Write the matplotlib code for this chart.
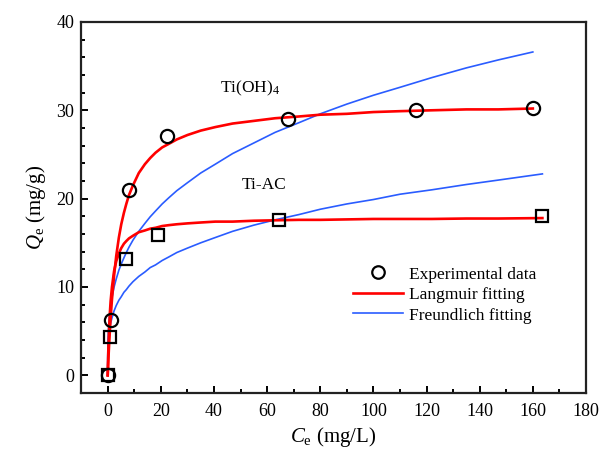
import numpy as np
import matplotlib
matplotlib.use("Agg")
import matplotlib.pyplot as plt
from matplotlib.lines import Line2D
from matplotlib.ticker import MultipleLocator

plt.rcParams['font.family'] = ['Liberation Serif', 'DejaVu Serif']
plt.rcParams['mathtext.fontset'] = 'custom'
plt.rcParams['mathtext.rm'] = 'Liberation Serif'
plt.rcParams['mathtext.it'] = 'Liberation Serif:italic'

# experimental data
ce_tioh = [0, 1.1, 8, 22.5, 68, 116, 160]
qe_tioh = [0, 6.3, 21.0, 27.1, 29.0, 30.0, 30.3]
ce_tiac = [0, 0.7, 7, 19, 64.6, 163.6]
qe_tiac = [0, 4.3, 13.2, 15.9, 17.6, 18.0]

# fitted curves, points
fit_c = [0, 0.02, 0.1, 0.25, 0.5, 0.8, 1.1, 1.6, 2.4, 3.2, 4.2, 5.1, 6.1, 7, 8, 9.5, 11.7, 14, 16, 18,
         20.5, 23, 26, 30, 35, 40.5, 47, 55, 63, 72, 80, 90, 100, 110, 122, 135, 147, 160]
lang_tioh_q = [0, 0.15, 0.7, 1.75, 3.3, 5.0, 6.5, 8.6, 11.3, 13.5, 15.6, 17.1, 18.4, 19.4, 20.4, 21.5, 22.9, 23.9, 24.6, 25.2,
               25.8, 26.2, 26.7, 27.2, 27.7, 28.1, 28.5, 28.8, 29.1, 29.3, 29.5, 29.6, 29.8, 29.9, 30.0, 30.1, 30.1, 30.2]
freu_tioh_q = [0, 2.3, 3.7, 4.95, 6.1, 7.1, 7.8, 8.8, 10.0, 10.9, 11.9, 12.6, 13.3, 13.9, 14.5, 15.3, 16.3, 17.2, 17.95, 18.6,
               19.4, 20.1, 20.9, 21.8, 22.9, 23.9, 25.1, 26.3, 27.5, 28.6, 29.6, 30.7, 31.7, 32.6, 33.7, 34.8, 35.7, 36.6]

fit_c_ac = [0, 0.02, 0.1, 0.25, 0.5, 0.8, 1.1, 1.6, 2.4, 3.2, 4.2, 5.1, 6.1, 7, 8, 9.5, 11.7, 14, 16, 18,
            20.5, 23, 26, 30, 35, 40.5, 47, 55, 63, 72, 80, 90, 100, 110, 122, 135, 147, 163.6]
lang_tiac_q = [0, 0.3, 1.3, 3.0, 5.1, 7.0, 8.4, 10.0, 11.8, 12.9, 13.8, 14.4, 14.9, 15.2, 15.5, 15.8, 16.2, 16.4, 16.6, 16.7,
               16.9, 17.0, 17.1, 17.2, 17.3, 17.4, 17.4, 17.5, 17.55, 17.6, 17.6, 17.65, 17.7, 17.7, 17.7, 17.75, 17.75, 17.8]
freu_tiac_q = [0, 2.0, 3.1, 3.96, 4.77, 5.4, 5.9, 6.5, 7.3, 7.9, 8.5, 8.9, 9.4, 9.7, 10.1, 10.6, 11.2, 11.7, 12.2, 12.5,
               13.0, 13.4, 13.9, 14.4, 15.0, 15.6, 16.3, 17.0, 17.6, 18.2, 18.8, 19.4, 19.9, 20.5, 21.0, 21.6, 22.1, 22.8]

red = '#ff0000'
blue = '#2a5cff'

fig = plt.figure(figsize=(6.01, 4.57), dpi=100)
ax = fig.add_axes([0.135, 0.140, 0.840, 0.812])

ax.plot(fit_c, freu_tioh_q, color=blue, lw=1.2, zorder=2)
ax.plot(fit_c_ac, freu_tiac_q, color=blue, lw=1.2, zorder=2)
ax.plot(fit_c, lang_tioh_q, color=red, lw=1.9, zorder=3)
ax.plot(fit_c_ac, lang_tiac_q, color=red, lw=1.9, zorder=3)

ax.plot(ce_tioh, qe_tioh, 'o', ms=9.5, mfc='none', mec='black', mew=1.6, zorder=5)
ax.plot(ce_tiac, qe_tiac, 's', ms=8.5, mfc='none', mec='black', mew=1.6, zorder=5)

ax.text(53.6, 32.5, r'Ti(OH)$_4$', fontsize=12.5, ha='center', va='center')
ax.text(58.9, 21.6, 'Ti-AC', fontsize=12.5, ha='center', va='center')

ax.set_xlim(-10, 180)
ax.set_ylim(-2, 40)
ax.xaxis.set_major_locator(MultipleLocator(20))
ax.xaxis.set_minor_locator(MultipleLocator(10))
ax.yaxis.set_major_locator(MultipleLocator(10))
ax.yaxis.set_minor_locator(MultipleLocator(2))
ax.tick_params(which='both', direction='in', top=False, right=False, width=1.4, labelsize=13)
ax.tick_params(which='major', length=5)
ax.tick_params(which='minor', length=3)
ax.tick_params(axis='x', pad=7)
ax.tick_params(axis='y', pad=5)
for s in ax.spines.values():
    s.set_linewidth(1.6)
    s.set_color('#222222')

ax.set_xlabel(r'$C_{\mathrm{e}}$ (mg/L)', fontsize=15, labelpad=4)
ax.set_ylabel(r'$Q_{\mathrm{e}}$ (mg/g)', fontsize=15, labelpad=6)

handles = [
    Line2D([], [], ls='none', marker='o', ms=9, mfc='none', mec='black', mew=1.6),
    Line2D([], [], color=red, lw=1.9),
    Line2D([], [], color=blue, lw=1.2),
]
labels = ['Experimental data', 'Langmuir fitting', 'Freundlich fitting']
ax.legend(handles, labels, loc='upper left', bbox_to_anchor=(0.524, 0.36), frameon=False,
          fontsize=12.5, handlelength=2.9, handletextpad=0.35, labelspacing=0.25, borderaxespad=0)

fig.savefig('out.png', dpi=100)
